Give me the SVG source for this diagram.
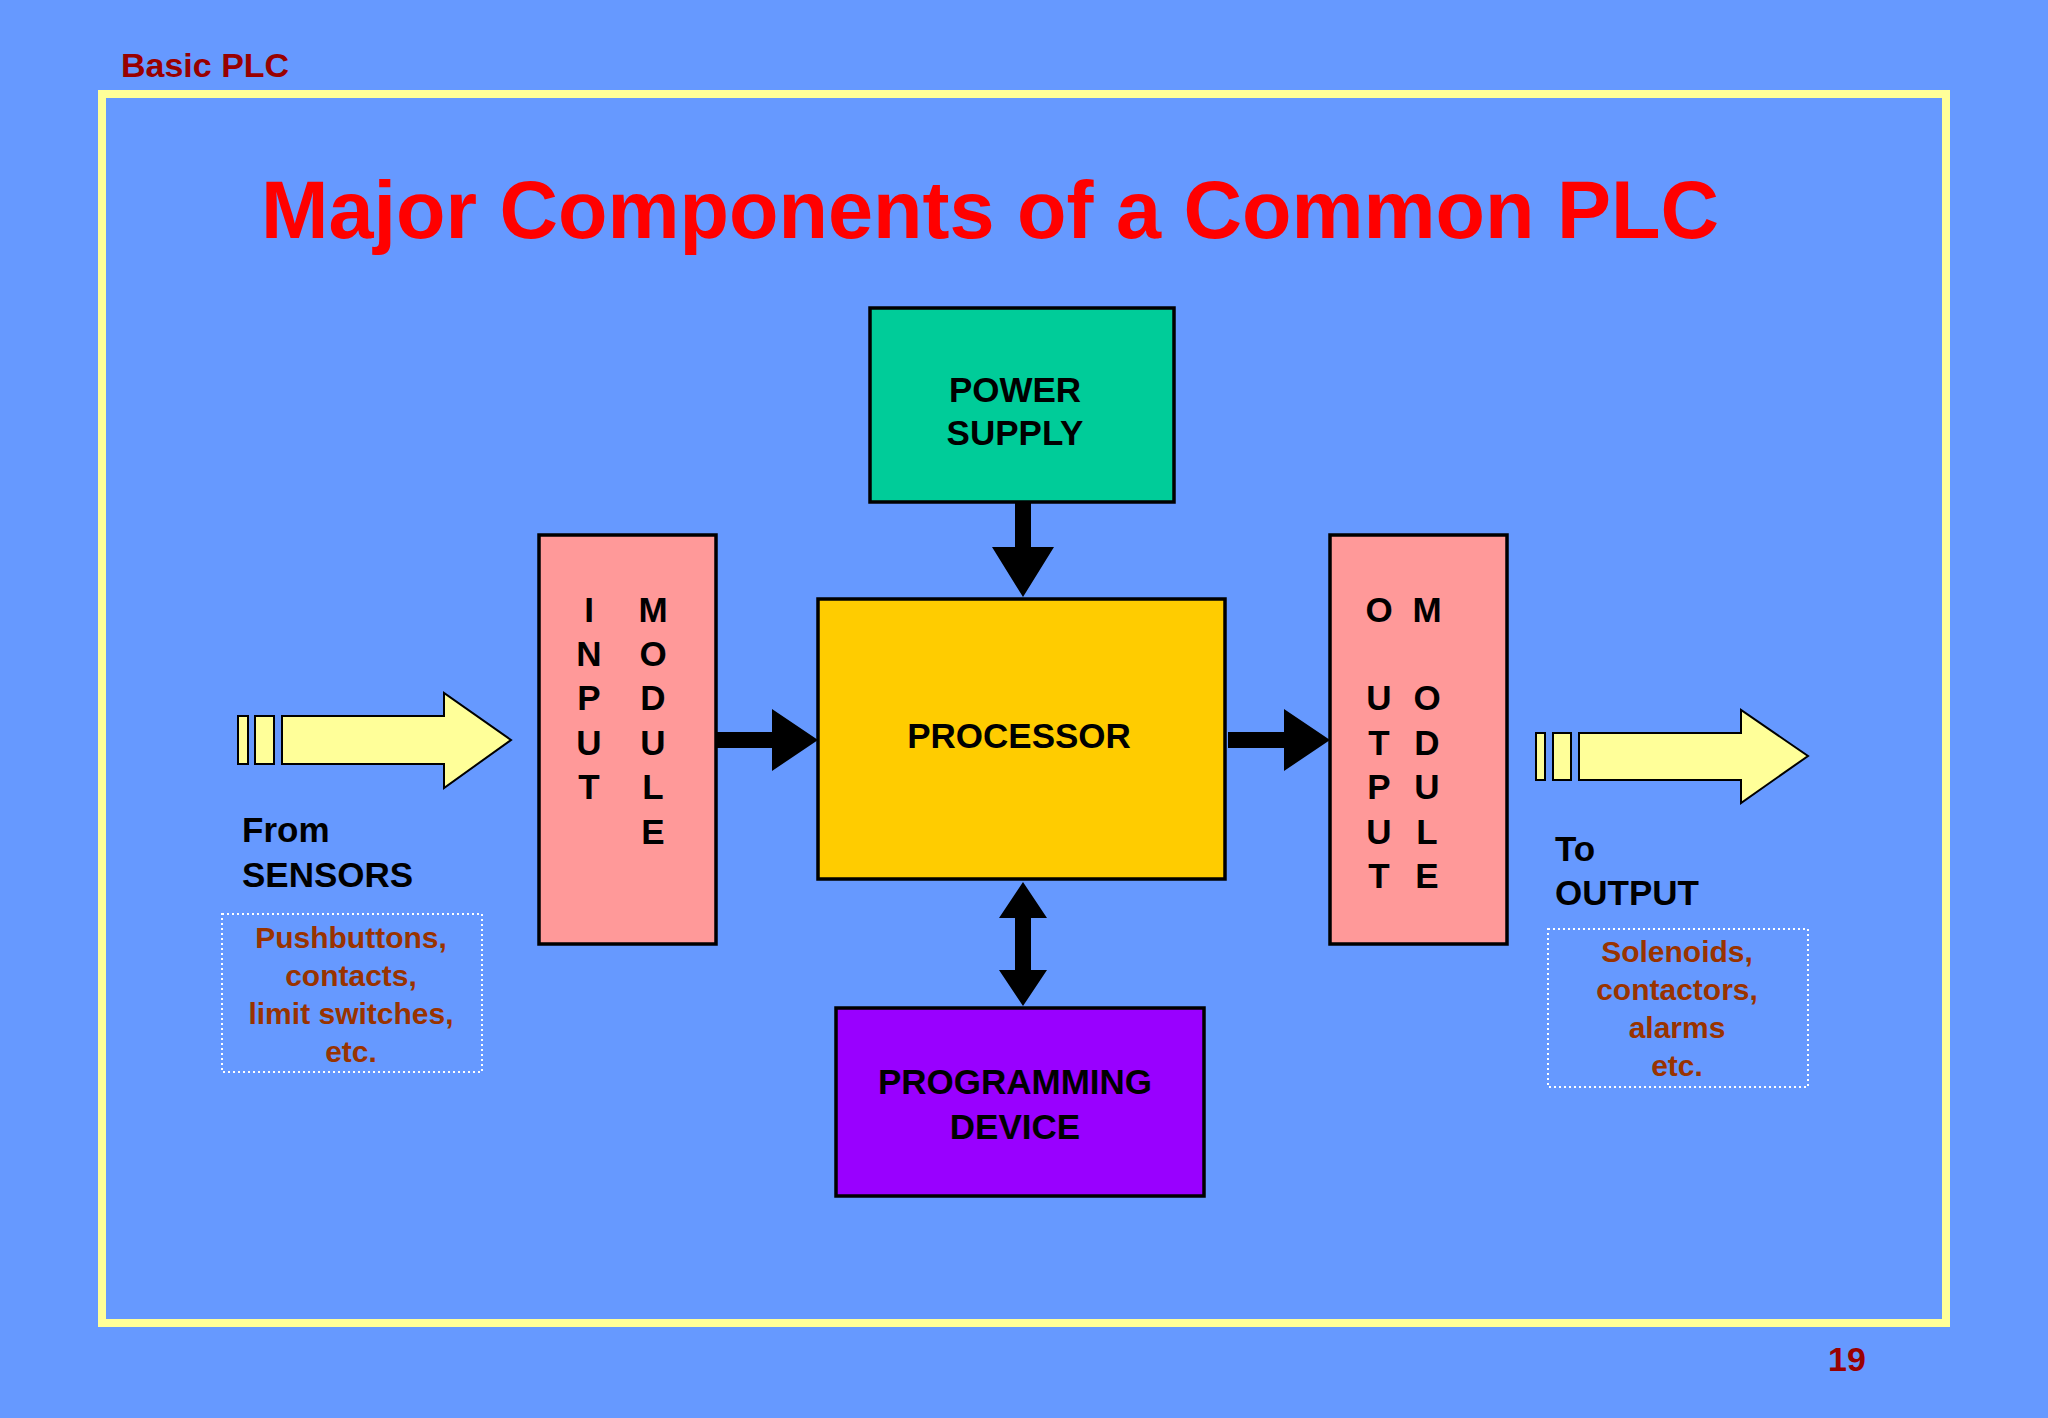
<svg xmlns="http://www.w3.org/2000/svg" width="2048" height="1418" viewBox="0 0 2048 1418">
<style>
text{font-family:"Liberation Sans",Arial,sans-serif;font-weight:bold}
.b{stroke:#000;stroke-width:3.5}
.l{font-size:35px;fill:#000;text-anchor:middle}
.s{font-size:30px;fill:#993300;text-anchor:middle}
.y{fill:#FFFF99;stroke:#000;stroke-width:2}
.d{fill:none;stroke:#fff;stroke-width:2;stroke-dasharray:2 3}
</style>
<rect width="2048" height="1418" fill="#6699FF"/>
<text x="121" y="77" font-size="34" fill="#990000">Basic PLC</text>
<rect x="102" y="94" width="1844" height="1229" fill="none" stroke="#FFFF99" stroke-width="8"/>
<text x="990" y="238" font-size="81" fill="#FF0000" text-anchor="middle">Major Components of a Common PLC</text>
<g id="connectors" fill="#000">
<path d="M1015 502h16v45h23l-31 50l-31-50h23z"/>
<path d="M717 732h55v-23l46 31l-46 31v-23h-55z"/>
<path d="M1228 732h56v-23l46 31l-46 31v-23h-56z"/>
<path d="M1023 882l24 36h-16v52h16l-24 36l-24-36h16v-52h-16z"/>
</g>
<g id="power"><rect class="b" x="870" y="308" width="304" height="194" fill="#00CC99"/>
<text class="l" x="1015" y="402">POWER</text><text class="l" x="1015" y="445">SUPPLY</text></g>
<g id="processor"><rect class="b" x="818" y="599" width="407" height="280" fill="#FFCC00"/>
<text class="l" x="1019" y="748">PROCESSOR</text></g>
<g id="programming"><rect class="b" x="836" y="1008" width="368" height="188" fill="#9900FF"/>
<text class="l" x="1015" y="1094">PROGRAMMING</text><text class="l" x="1015" y="1139">DEVICE</text></g>
<g id="input"><rect class="b" x="539" y="535" width="177" height="409" fill="#FF9999"/>
<g class="l"><text x="589" y="622">I</text><text x="589" y="666">N</text><text x="589" y="710">P</text><text x="589" y="755">U</text><text x="589" y="799">T</text>
<text x="653" y="622">M</text><text x="653" y="666">O</text><text x="653" y="710">D</text><text x="653" y="755">U</text><text x="653" y="799">L</text><text x="653" y="844">E</text></g></g>
<g id="output"><rect class="b" x="1330" y="535" width="177" height="409" fill="#FF9999"/>
<g class="l"><text x="1379" y="622">O</text><text x="1379" y="710">U</text><text x="1379" y="755">T</text><text x="1379" y="799">P</text><text x="1379" y="844">U</text><text x="1379" y="888">T</text>
<text x="1427" y="622">M</text><text x="1427" y="710">O</text><text x="1427" y="755">D</text><text x="1427" y="799">U</text><text x="1427" y="844">L</text><text x="1427" y="888">E</text></g></g>
<g id="sensors">
<rect class="y" x="238" y="716" width="10" height="48"/><rect class="y" x="255" y="716" width="19" height="48"/>
<path class="y" d="M282 716h162v-23l67 47l-67 48v-24h-162z"/>
<text x="242" y="842" font-size="35" fill="#000">From</text><text x="242" y="887" font-size="35" fill="#000">SENSORS</text>
<rect class="d" x="222" y="914" width="260" height="158"/>
<text class="s" x="351" y="948">Pushbuttons,</text><text class="s" x="351" y="986">contacts,</text><text class="s" x="351" y="1024">limit switches,</text><text class="s" x="351" y="1062">etc.</text></g>
<g id="outputs">
<rect class="y" x="1536" y="733" width="9" height="47"/><rect class="y" x="1553" y="733" width="18" height="47"/>
<path class="y" d="M1579 733h162v-23l67 46l-67 47v-23h-162z"/>
<text x="1555" y="861" font-size="35" fill="#000">To</text><text x="1555" y="905" font-size="35" fill="#000">OUTPUT</text>
<rect class="d" x="1548" y="929" width="260" height="158"/>
<text class="s" x="1677" y="962">Solenoids,</text><text class="s" x="1677" y="1000">contactors,</text><text class="s" x="1677" y="1038">alarms</text><text class="s" x="1677" y="1076">etc.</text></g>
<text x="1847" y="1371" font-size="34" fill="#990000" text-anchor="middle">19</text>
</svg>
